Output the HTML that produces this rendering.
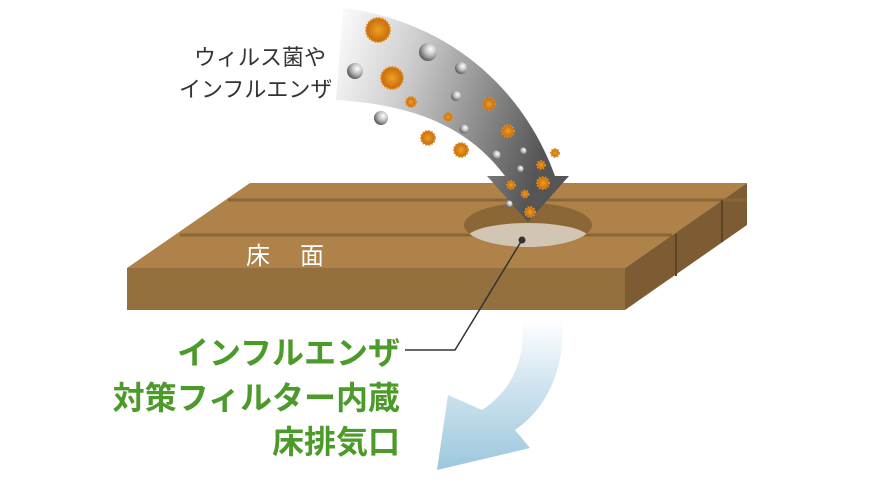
<!DOCTYPE html>
<html><head><meta charset="utf-8"><style>
html,body{margin:0;padding:0;background:#fff;}
svg{display:block}
</style></head><body>
<svg width="870" height="495" viewBox="0 0 870 495" xmlns="http://www.w3.org/2000/svg">
<defs>
<linearGradient id="ga" x1="0" y1="0" x2="1" y2="0.3">
<stop offset="0" stop-color="#fff"/><stop offset="0.35" stop-color="#cfcfcf"/><stop offset="1" stop-color="#555"/>
</linearGradient>
<linearGradient id="gb" x1="0" y1="0" x2="0" y2="1">
<stop offset="0" stop-color="#fff"/><stop offset="0.4" stop-color="#d4e6f0"/><stop offset="1" stop-color="#9cc7dd"/>
</linearGradient>
<radialGradient id="gs" cx="0.65" cy="0.35" r="0.7">
<stop offset="0" stop-color="#fff"/><stop offset="0.5" stop-color="#bbb"/><stop offset="1" stop-color="#555"/>
</radialGradient>
<radialGradient id="gv" cx="0.5" cy="0.5" r="0.5">
<stop offset="0" stop-color="#f0a020"/><stop offset="1" stop-color="#c66a10"/>
</radialGradient>
<clipPath id="hc"><ellipse cx="528" cy="225" rx="64" ry="22"/></clipPath>
</defs>
<path d="M522,320 L562,320 C566,370 545,410 515,430 L530,448 L437,470 L448,395 L482,410 C512,390 526,360 522,320 Z" fill="url(#gb)"/>
<polygon points="250,183 747,183 625,268 127,268" fill="#ae8248"/>
<polygon points="127,268 625,268 625,310 127,310" fill="#95703f"/>
<polygon points="625,268 747,183 747,225 625,310" fill="#7d5c33"/>
<line x1="228" y1="200" x2="747" y2="200" stroke="#8a6535" stroke-width="3"/>
<line x1="180" y1="235" x2="672" y2="235" stroke="#8a6535" stroke-width="3"/>
<line x1="676" y1="234" x2="676" y2="276" stroke="#5f4424" stroke-width="2"/>
<line x1="722" y1="200" x2="722" y2="242" stroke="#5f4424" stroke-width="2"/>
<ellipse cx="528" cy="225" rx="64" ry="22" fill="#8b6636"/>
<ellipse cx="528" cy="239" rx="62" ry="16" fill="#d2c5b3" clip-path="url(#hc)"/>
<text x="246" y="264" font-family="Liberation Sans,'Noto Sans CJK JP',sans-serif" font-size="24" fill="#fff">床</text>
<text x="300" y="264" font-family="Liberation Sans,'Noto Sans CJK JP',sans-serif" font-size="24" fill="#fff">面</text>
<path d="M343,8 C440,20 520,80 555,176 L569,176 L528,222 L487,176 L505,176 C470,130 420,105 336,100 Z" fill="url(#ga)"/>
<g fill="url(#gs)">
<circle cx="355" cy="71" r="8"/><circle cx="428" cy="52" r="9"/><circle cx="461" cy="68" r="6"/>
<circle cx="381" cy="118" r="7"/><circle cx="456" cy="96" r="5"/><circle cx="464" cy="129" r="4.5"/>
<circle cx="496" cy="155" r="4.5"/><circle cx="523" cy="151" r="3.5"/><circle cx="520" cy="169" r="3.5"/><circle cx="509" cy="204" r="3.5"/>
</g>
<g fill="url(#gv)" stroke="#e08a18" stroke-width="2" stroke-dasharray="1.5 1.5">
<circle cx="378" cy="30" r="12"/><circle cx="392" cy="78" r="11"/><circle cx="411" cy="102" r="5"/>
<circle cx="448" cy="117" r="4"/><circle cx="428" cy="138" r="7"/><circle cx="461" cy="150" r="7"/>
<circle cx="489" cy="104" r="6"/><circle cx="508" cy="131" r="6"/><circle cx="555" cy="153" r="4"/>
<circle cx="541" cy="165" r="4"/><circle cx="543" cy="183" r="6"/><circle cx="511" cy="185" r="4"/>
<circle cx="525" cy="194" r="3.5"/><circle cx="530" cy="212" r="5"/>
</g>
<g font-family="Liberation Sans,'Noto Sans CJK JP',sans-serif" font-size="22" fill="#333">
<text x="194" y="65">ウィルス菌や</text>
<text x="179" y="97">インフルエンザ</text>
</g>
<polyline points="405,350 455,350 522,240" fill="none" stroke="#333" stroke-width="1.5"/>
<circle cx="522" cy="240" r="3.5" fill="#333"/>
<g font-family="Liberation Sans,'Noto Sans CJK JP',sans-serif" font-size="32" font-weight="bold" fill="#4c9a2a" text-anchor="end">
<text x="400" y="364">インフルエンザ</text>
<text x="400" y="409">対策フィルター内蔵</text>
<text x="400" y="453">床排気口</text>
</g>
</svg>
</body></html>
